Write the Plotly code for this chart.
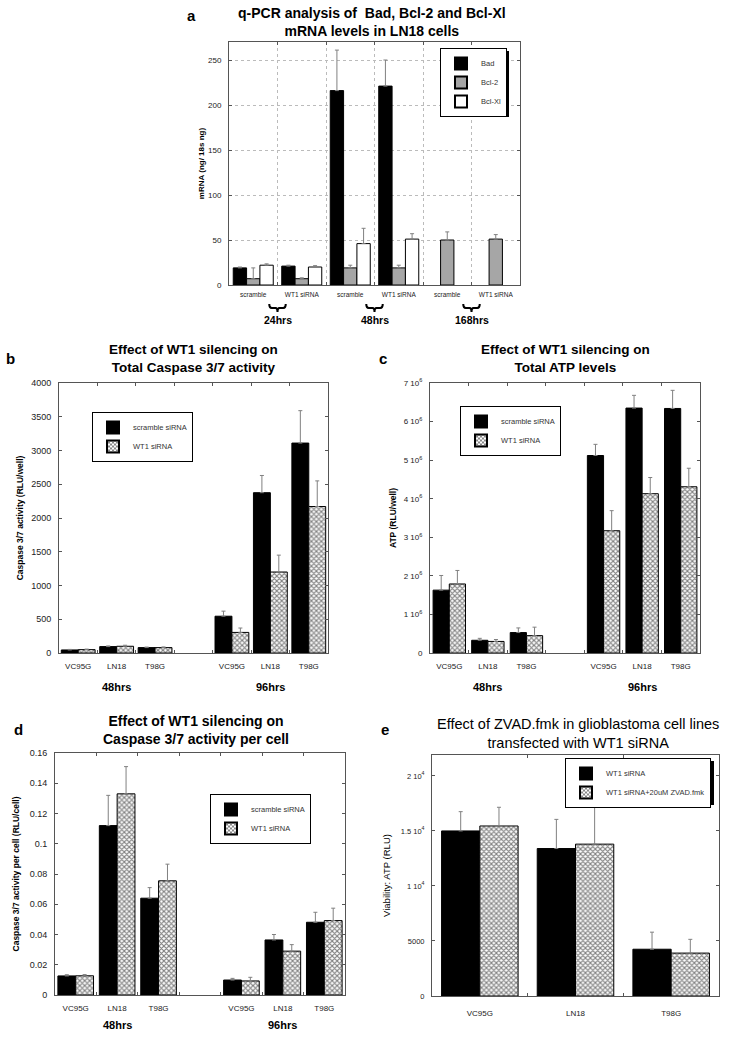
import plotly.graph_objects as go

W, H = 730, 1037
FONT = "Liberation Sans, Arial, sans-serif"

# ---------------- data ----------------
# panel a
a_groups = ["scramble", "WT1 siRNA", "scramble", "WT1 siRNA", "scramble", "WT1 siRNA"]
a_times = ["24hrs", "48hrs", "168hrs"]
a_bad = [19, 21, 216, 221, None, None]
a_bad_err = [1, 1, 45, 29, 0, 0]
a_bcl2 = [7, 7, 19, 19, 50, 51]
a_bcl2_err = [12, 1, 3, 3, 9, 5]
a_bclxl = [22, 20, 46, 51, None, None]
a_bclxl_err = [1.5, 1.5, 17, 6, 0, 0]
a_yticks = [0, 50, 100, 150, 200, 250]

# panels b, c, d
cells = ["VC95G", "LN18", "T98G", "VC95G", "LN18", "T98G"]
times = ["48hrs", "96hrs"]

b_scramble = [45, 95, 80, 545, 2375, 3110]
b_scramble_err = [8, 10, 8, 75, 255, 480]
b_wt1 = [50, 100, 80, 305, 1200, 2170]
b_wt1_err = [8, 15, 10, 65, 250, 380]
b_yticks = [0, 500, 1000, 1500, 2000, 2500, 3000, 3500, 4000]

c_scramble = [1.63e6, 0.33e6, 0.53e6, 5.12e6, 6.35e6, 6.34e6]
c_scramble_err = [0.38e6, 0.05e6, 0.12e6, 0.29e6, 0.33e6, 0.47e6]
c_wt1 = [1.79e6, 0.30e6, 0.45e6, 3.17e6, 4.13e6, 4.31e6]
c_wt1_err = [0.35e6, 0.05e6, 0.22e6, 0.52e6, 0.42e6, 0.48e6]
c_yticks = [0, 1e6, 2e6, 3e6, 4e6, 5e6, 6e6, 7e6]
c_yticktext = ["0", "1 10<sup>6</sup>", "2 10<sup>6</sup>", "3 10<sup>6</sup>",
               "4 10<sup>6</sup>", "5 10<sup>6</sup>", "6 10<sup>6</sup>", "7 10<sup>6</sup>"]

d_scramble = [0.0126, 0.112, 0.064, 0.0099, 0.0364, 0.0481]
d_scramble_err = [0.0008, 0.020, 0.007, 0.0011, 0.0036, 0.0066]
d_wt1 = [0.0127, 0.133, 0.0755, 0.0093, 0.029, 0.0492]
d_wt1_err = [0.0008, 0.018, 0.011, 0.0024, 0.0043, 0.0082]
d_yticks = [0, 0.02, 0.04, 0.06, 0.08, 0.1, 0.12, 0.14, 0.16]
d_yticktext = ["0", "0.02", "0.04", "0.06", "0.08", "0.1", "0.12", "0.14", "0.16"]

# panel e
e_cells = ["VC95G", "LN18", "T98G"]
e_wt1 = [15000, 13400, 4250]
e_wt1_err = [1750, 2650, 1550]
e_zvad = [15450, 13800, 3900]
e_zvad_err = [1700, 3650, 1250]
e_yticks = [0, 5000, 10000, 15000, 20000]
e_yticktext = ["0", "5000", "1 10<sup>4</sup>", "1.5 10<sup>4</sup>", "2 10<sup>4</sup>"]


def X(px):
    return px / W


def Y(py):
    return 1 - py / H


CHECK = dict(shape="x", size=3.5, solidity=0.55, fgcolor="black", bgcolor="white")
ERR_COLOR = "#808080"


def err(arr):
    return dict(type="data", array=arr, arrayminus=[0] * len(arr), symmetric=False,
                color=ERR_COLOR, thickness=1, width=2)


fig = go.Figure()

# ---------------- panel a ----------------
a_pos = list(range(len(a_groups)))
wa = 0.275
for k, (name, vals, errs, color) in enumerate([
        ("Bad", a_bad, a_bad_err, "black"),
        ("Bcl-2", a_bcl2, a_bcl2_err, "#a6a6a6"),
        ("Bcl-Xl", a_bclxl, a_bclxl_err, "white")]):
    fig.add_trace(go.Bar(x=a_pos, y=vals, name=name, width=wa, offset=-1.5 * wa + k * wa,
                         marker=dict(color=color, line=dict(color="black", width=1)),
                         error_y=err(errs), xaxis="x", yaxis="y", legend="legend"))

# ---------------- panels b, c, d ----------------
slots = [i + i // 3 for i in range(len(cells))]


def pair(xa, ya, leg, s_vals, s_err, w_vals, w_err, w):
    fig.add_trace(go.Bar(x=slots, y=s_vals, name="scramble siRNA", width=w, offset=-w,
                         marker=dict(color="black", line=dict(color="black", width=1)),
                         error_y=err(s_err), xaxis=xa, yaxis=ya, legend=leg))
    fig.add_trace(go.Bar(x=slots, y=w_vals, name="WT1 siRNA", width=w, offset=0,
                         marker=dict(color="white", line=dict(color="black", width=1), pattern=CHECK),
                         error_y=err(w_err), xaxis=xa, yaxis=ya, legend=leg))


pair("x2", "y2", "legend2", b_scramble, b_scramble_err, b_wt1, b_wt1_err, 0.44)
pair("x3", "y3", "legend3", c_scramble, c_scramble_err, c_wt1, c_wt1_err, 0.42)
pair("x4", "y4", "legend4", d_scramble, d_scramble_err, d_wt1, d_wt1_err, 0.43)

# ---------------- panel e ----------------
e_pos = list(range(len(e_cells)))
we = 0.4
fig.add_trace(go.Bar(x=e_pos, y=e_wt1, name="WT1 siRNA", width=we, offset=-we,
                     marker=dict(color="black", line=dict(color="black", width=1)),
                     error_y=err(e_wt1_err), xaxis="x5", yaxis="y5", legend="legend5"))
fig.add_trace(go.Bar(x=e_pos, y=e_zvad, name="WT1 siRNA+20uM ZVAD.fmk", width=we, offset=0,
                     marker=dict(color="white", line=dict(color="black", width=1), pattern=CHECK),
                     error_y=err(e_zvad_err), xaxis="x5", yaxis="y5", legend="legend5"))

# ---------------- axes ----------------
LINE = "#555555"


def xaxis(dom, anchor, rng, tickvals, ticktext, minor_vals, fs, grid=False, standoff=5):
    return dict(domain=[X(dom[0]), X(dom[1])], anchor=anchor, range=rng,
                tickmode="array", tickvals=tickvals, ticktext=ticktext, ticks="",
                showline=True, linecolor=LINE, linewidth=1, mirror="ticks",
                showgrid=False, zeroline=False, automargin=False, ticklabelstandoff=standoff,
                tickfont=dict(size=fs, color="#222", family=FONT),
                minor=dict(tickmode="array", tickvals=minor_vals, ticks="inside", ticklen=3,
                           tickcolor=LINE, showgrid=grid, gridcolor="#bbbbbb", griddash="dot"))


def yaxis(dom, anchor, rng, tickvals, ticktext, fs, title, tfs, standoff, grid=False):
    return dict(domain=[Y(dom[1]), Y(dom[0])], anchor=anchor, range=rng,
                tickmode="array", tickvals=tickvals, ticktext=ticktext,
                ticks="inside", ticklen=3, tickcolor=LINE,
                showline=True, linecolor=LINE, linewidth=1, mirror="ticks",
                showgrid=grid, gridcolor="#bbbbbb", griddash="dot", zeroline=False,
                automargin=False, ticklabelstandoff=5,
                tickfont=dict(size=fs, color="#222", family=FONT),
                title=dict(text=title, font=dict(size=tfs, color="black", family=FONT), standoff=standoff))


fig.update_layout(
    xaxis=xaxis((229, 520), "y", [-0.5, 5.5], a_pos, a_groups, [0.5, 1.5, 2.5, 3.5, 4.5], 6.5, grid=True,
                standoff=3),
    yaxis=yaxis((42, 285), "x", [0, 270], a_yticks, [str(v) for v in a_yticks], 8,
                "<b>mRNA (ng/ 18s ng)</b>", 8, 2, grid=True),
    xaxis2=xaxis((59, 328), "y2", [-0.5, 6.5], slots, cells, [0.5, 1.5, 2.5, 3.5, 4.5, 5.5], 8),
    yaxis2=yaxis((383, 653), "x2", [0, 4000], b_yticks, [str(v) for v in b_yticks], 9,
                 "<b>Caspase 3/7 activity (RLU/well)</b>", 8.5, 6),
    xaxis3=xaxis((430, 700), "y3", [-0.5, 6.5], slots, cells, [0.5, 1.5, 2.5, 3.5, 4.5, 5.5], 8),
    yaxis3=yaxis((383, 653), "x3", [0, 7e6], c_yticks, c_yticktext, 8,
                 "<b>ATP (RLU/well)</b>", 8.5, 5),
    xaxis4=xaxis((55, 345), "y4", [-0.5, 6.5], slots, cells, [0.5, 1.5, 2.5, 3.5, 4.5, 5.5], 8),
    yaxis4=yaxis((753, 995), "x4", [0, 0.16], d_yticks, d_yticktext, 9,
                 "<b>Caspase 3/7 activity per cell (RLU/cell)</b>", 8.5, 8),
    xaxis5=xaxis((432, 719), "y5", [-0.5, 2.5], e_pos, e_cells, [0.5, 1.5], 8, standoff=9),
    yaxis5=yaxis((755, 996), "x5", [0, 21900], e_yticks, e_yticktext, 7.5,
                 "Viability: ATP (RLU)", 9.5, 8),
)

# ---------------- legends (with drop shadow) ----------------
leg_common = dict(bgcolor="white", bordercolor="black", borderwidth=1, xanchor="left", yanchor="top",
                  itemsizing="constant", itemwidth=30, tracegroupgap=0,
                  font=dict(size=7.5, color="#333", family=FONT))
# left, top, approx rendered width, height (px)
legend_boxes = {
    "legend": (440, 48, 66, 66),
    "legend2": (92, 412, 96, 44),
    "legend3": (460, 406, 96, 44),
    "legend4": (210, 794, 96, 44),
    "legend5": (565, 758, 146, 44),
}
shapes = []
for key, (lx, ly, lw, lh) in legend_boxes.items():
    fig.update_layout({key: dict(leg_common, x=X(lx), y=Y(ly))})
    shapes.append(dict(type="rect", xref="paper", yref="paper", layer="above",
                       x0=X(lx + 3), x1=X(lx + lw + 3), y0=Y(ly + lh + 3), y1=Y(ly + 3),
                       fillcolor="black", line=dict(width=0)))

# ---------------- titles & annotations ----------------
ann = []


def text(x, y, t, size, bold=False, xref="paper", xanchor="center"):
    ann.append(dict(x=x if xref != "paper" else X(x), y=Y(y), xref=xref, yref="paper",
                    text=f"<b>{t}</b>" if bold else t, showarrow=False, xanchor=xanchor,
                    yanchor="middle", font=dict(size=size, color="black", family=FONT)))


text(192, 15, "a", 15, True)
text(372, 22, "q-PCR analysis of  Bad, Bcl-2 and Bcl-Xl<br>mRNA levels in LN18 cells", 14, True)
text(10, 358, "b", 15, True)
text(193, 358, "Effect of WT1 silencing on<br>Total Caspase 3/7 activity", 13.5, True)
text(383, 358, "c", 15, True)
text(565, 358, "Effect of WT1 silencing on<br>Total ATP levels", 13.5, True)
text(18, 729, "d", 15, True)
text(196, 730, "Effect of WT1 silencing on<br>Caspase 3/7 activity per cell", 14, True)
text(385, 729, "e", 15, True)
text(578, 733, "Effect of ZVAD.fmk in glioblastoma cell lines<br>transfected with WT1 siRNA", 14.5)

# time labels with braces for panel a
yb0, yb1, yb2 = Y(304), Y(308), Y(312)
for i, t in enumerate(a_times):
    xb = 2 * i + 0.5
    hw = 0.17
    path = (f"M {xb - hw},{yb0} Q {xb - hw},{yb1} {xb - hw + 0.05},{yb1} "
            f"L {xb - 0.04},{yb1} Q {xb},{yb1} {xb},{yb2} "
            f"Q {xb},{yb1} {xb + 0.04},{yb1} L {xb + hw - 0.05},{yb1} "
            f"Q {xb + hw},{yb1} {xb + hw},{yb0}")
    shapes.append(dict(type="path", xref="x", yref="paper", path=path,
                       line=dict(color="black", width=2)))
    text(xb, 320, t, 10.5, True, xref="x")

for xa, yl in (("x2", 687), ("x3", 687), ("x4", 1025)):
    for j, t in enumerate(times):
        text(slots[3 * j + 1], yl, t, 11, True, xref=xa)

fig.update_layout(
    annotations=ann, shapes=shapes,
    width=W, height=H, margin=dict(l=0, r=0, t=0, b=0),
    paper_bgcolor="white", plot_bgcolor="white",
    barmode="overlay", showlegend=True,
    font=dict(family=FONT, color="#222"),
)

fig.write_html("out.html", config={"displayModeBar": False},
               post_script="document.body.style.margin='0';")
